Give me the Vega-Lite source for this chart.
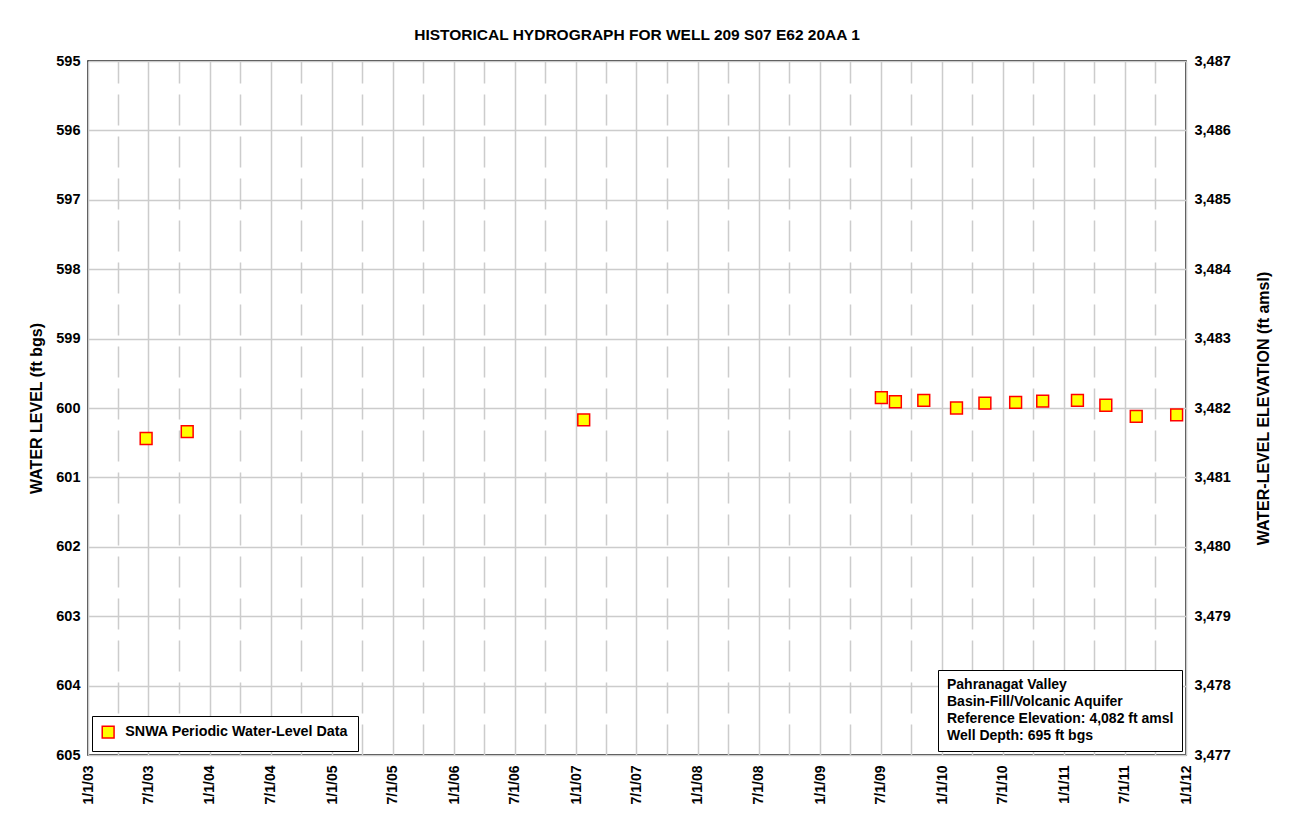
{
  "$schema": "https://vega.github.io/schema/vega-lite/v6.json",
  "autosize": {"type": "none"},
  "width": 1098,
  "height": 694,
  "padding": {"left": 88, "top": 61, "right": 107, "bottom": 69},
  "background": "white",
  "title": {
    "text": "HISTORICAL HYDROGRAPH FOR WELL 209 S07 E62 20AA 1",
    "font": "Liberation Sans",
    "fontSize": 15.5,
    "fontWeight": "bold",
    "color": "black",
    "anchor": "middle",
    "offset": 10
  },
  "config": {
    "view": {"stroke": "black", "strokeWidth": 1.5},
    "font": "Liberation Sans"
  },
  "datasets": {
    "wells": [
      {"date": "2003-06-24", "level": 600.44, "series": "SNWA Periodic Water-Level Data"},
      {"date": "2003-10-25", "level": 600.34, "series": "SNWA Periodic Water-Level Data"},
      {"date": "2007-01-24", "level": 600.17, "series": "SNWA Periodic Water-Level Data"},
      {"date": "2009-07-03", "level": 599.85, "series": "SNWA Periodic Water-Level Data"},
      {"date": "2009-08-14", "level": 599.91, "series": "SNWA Periodic Water-Level Data"},
      {"date": "2009-11-07", "level": 599.89, "series": "SNWA Periodic Water-Level Data"},
      {"date": "2010-02-13", "level": 600.0, "series": "SNWA Periodic Water-Level Data"},
      {"date": "2010-05-09", "level": 599.93, "series": "SNWA Periodic Water-Level Data"},
      {"date": "2010-08-09", "level": 599.92, "series": "SNWA Periodic Water-Level Data"},
      {"date": "2010-10-29", "level": 599.9, "series": "SNWA Periodic Water-Level Data"},
      {"date": "2011-02-10", "level": 599.89, "series": "SNWA Periodic Water-Level Data"},
      {"date": "2011-05-06", "level": 599.96, "series": "SNWA Periodic Water-Level Data"},
      {"date": "2011-08-05", "level": 600.12, "series": "SNWA Periodic Water-Level Data"},
      {"date": "2011-12-04", "level": 600.1, "series": "SNWA Periodic Water-Level Data"}
    ],
    "info": [
      {"line": "Pahranagat Valley"},
      {"line": "Basin-Fill/Volcanic Aquifer"},
      {"line": "Reference Elevation: 4,082 ft amsl"},
      {"line": "Well Depth: 695 ft bgs"}
    ]
  },
  "resolve": {"axis": {"y": "independent"}},
  "layer": [
    {
      "data": {"name": "wells"},
      "mark": {"type": "point", "shape": "square", "filled": true, "size": 140, "stroke": "#ff0000", "strokeWidth": 1.5, "opacity": 1},
      "encoding": {
        "x": {
          "field": "date",
          "type": "temporal",
          "scale": {
            "type": "utc",
            "domain": [
              {"year": 2003, "month": 1, "date": 1, "utc": true},
              {"year": 2012, "month": 1, "date": 1, "utc": true}
            ]
          },
          "axis": {
            "title": null,
            "tickCount": {"interval": "month", "step": 3},
            "labelExpr": "utcmonth(datum.value) % 6 == 0 ? utcFormat(datum.value, '%-m/%-d/%y') : ''",
            "labelAngle": -90,
            "labelFont": "Liberation Sans",
            "labelFontSize": 14,
            "labelFontWeight": "bold",
            "labelColor": "black",
            "labelPadding": 10,
            "labelOverlap": false,
            "labelFlush": false,
            "ticks": false,
            "domain": false,
            "grid": true,
            "gridColor": "#cccccc",
            "gridWidth": 1.5,
            "gridDash": {"condition": {"test": "utcmonth(datum.value) % 6 != 0", "value": [31, 11]}, "value": []}
          }
        },
        "y": {
          "field": "level",
          "type": "quantitative",
          "scale": {"domain": [595, 605], "reverse": true, "nice": false, "zero": false},
          "axis": {
            "orient": "left",
            "values": [595, 596, 597, 598, 599, 600, 601, 602, 603, 604, 605],
            "format": "d",
            "title": "WATER LEVEL (ft bgs)",
            "titleFont": "Liberation Sans",
            "titleFontSize": 16,
            "titleFontWeight": "bold",
            "titleColor": "black",
            "titlePadding": 11,
            "labelFont": "Liberation Sans",
            "labelFontSize": 14.5,
            "labelFontWeight": "bold",
            "labelColor": "black",
            "labelPadding": 8,
            "ticks": false,
            "domain": false,
            "grid": true,
            "gridColor": "#cccccc",
            "gridWidth": 1.5
          }
        },
        "color": {
          "field": "series",
          "type": "nominal",
          "scale": {"range": ["#ffff00"]},
          "legend": {
            "title": null,
            "orient": "bottom-left",
            "offset": 4,
            "strokeColor": "black",
            "fillColor": "white",
            "padding": 9,
            "symbolType": "square",
            "symbolSize": 140,
            "symbolStrokeColor": "#ff0000",
            "symbolStrokeWidth": 1.5,
            "symbolFillColor": "#ffff00",
            "labelFont": "Liberation Sans",
            "labelFontSize": 14.3,
            "labelFontWeight": "bold",
            "labelColor": "black",
            "labelOffset": 10,
            "labelLimit": 500
          }
        }
      }
    },
    {
      "data": {"name": "wells"},
      "mark": {"type": "point", "opacity": 0},
      "encoding": {
        "y": {
          "field": "level",
          "type": "quantitative",
          "axis": {
            "orient": "right",
            "values": [595, 596, 597, 598, 599, 600, 601, 602, 603, 604, 605],
            "labelExpr": "format(4082 - datum.value, ',')",
            "title": "WATER-LEVEL ELEVATION (ft amsl)",
            "titleAngle": -90,
            "titleFont": "Liberation Sans",
            "titleFontSize": 16,
            "titleFontWeight": "bold",
            "titleColor": "black",
            "titlePadding": 41,
            "labelFont": "Liberation Sans",
            "labelFontSize": 14.5,
            "labelFontWeight": "bold",
            "labelColor": "black",
            "labelPadding": 8,
            "ticks": false,
            "domain": false,
            "grid": false
          }
        }
      }
    },
    {
      "data": {"name": "info"},
      "mark": {"type": "point", "opacity": 0},
      "encoding": {
        "shape": {
          "field": "line",
          "type": "nominal",
          "scale": {
            "domain": ["Pahranagat Valley", "Basin-Fill/Volcanic Aquifer", "Reference Elevation: 4,082 ft amsl", "Well Depth: 695 ft bgs"],
            "range": ["square", "square", "square", "square"]
          },
          "legend": {
            "title": null,
            "orient": "bottom-right",
            "offset": 4,
            "strokeColor": "black",
            "fillColor": "white",
            "padding": 8,
            "symbolSize": 0,
            "symbolStrokeWidth": 0,
            "symbolOpacity": 0,
            "labelOffset": -13,
            "rowPadding": 3,
            "labelFont": "Liberation Sans",
            "labelFontSize": 14,
            "labelFontWeight": "bold",
            "labelColor": "black",
            "labelLimit": 500
          }
        }
      }
    }
  ]
}
